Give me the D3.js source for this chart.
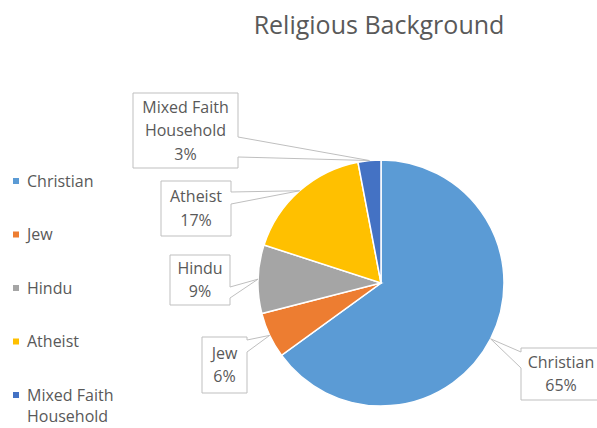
<!DOCTYPE html>
<html>
<head>
<meta charset="utf-8">
<script src="https://cdn.jsdelivr.net/npm/d3@7"></script>
<style>
	body { margin: 0; background: #fff; }
	text { font-family: "Open Sans", sans-serif; fill: #595959; }
</style>
</head>
<body>
<div id="chart"></div>
<script>
var title = "Religious Background";
var categories = ["Christian", "Jew", "Hindu", "Atheist", "Mixed Faith Household"];
var shares = [65, 6, 9, 17, 3];
var colors = ["#5b9bd5", "#ed7d31", "#a5a5a5", "#ffc000", "#4472c4"];

var chart = { width: 597, height: 428, cx: 381, cy: 283, r: 123 };

// callout boxes, order follows categories (layout only)
var callouts = [
	{ x: 521, y: 348, w: 80, h: 52, side: "left", b0: 352, b1: 368 },
	{ x: 202, y: 337, w: 45, h: 56, side: "right", b0: 340, b1: 352 },
	{ x: 170, y: 255, w: 60, h: 50, side: "right", b0: 287, b1: 298 },
	{ x: 161, y: 181, w: 70, h: 55, side: "right", b0: 192, b1: 204 },
	{ x: 133, y: 93, w: 105, h: 75, side: "right", b0: 137, b1: 157 }
];

var data = categories.map(function (c, i) {
	return { name: c, value: shares[i], color: colors[i] };
});

var svg = d3.select("#chart")
	.append("svg")
	.attr("width", chart.width)
	.attr("height", chart.height);

svg.append("text")
	.attr("x", 379)
	.attr("y", 34)
	.attr("text-anchor", "middle")
	.style("font-size", "25px")
	.text(title);

var pie = d3.pie()
	.sort(null)
	.value(function (d) { return d.value; });

var arcs = pie(data);

var arc = d3.arc()
	.innerRadius(0)
	.outerRadius(chart.r);

var edge = d3.arc()
	.innerRadius(chart.r)
	.outerRadius(chart.r);

var g = svg.append("g")
	.attr("transform", "translate(" + chart.cx + "," + chart.cy + ")");

g.selectAll(".slice")
	.data(arcs)
	.enter()
	.append("path")
	.attr("class", "slice")
	.attr("d", arc)
	.attr("fill", function (d) { return d.data.color; })
	.attr("stroke", "#fff")
	.attr("stroke-width", 1.5);

// wrap words into lines no wider than maxW
function wrap(sel, words, maxW) {
	var lines = [], cur = "";
	var probe = sel.append("text").style("font-size", "16px");
	words.split(" ").forEach(function (w) {
		var t = cur ? cur + " " + w : w;
		probe.text(t);
		if (cur && probe.node().getComputedTextLength() > maxW) {
			lines.push(cur);
			cur = w;
		} else {
			cur = t;
		}
	});
	lines.push(cur);
	probe.remove();
	return lines;
}

// callouts
arcs.forEach(function (d, i) {
	var c = callouts[i];
	var p = edge.centroid(d);
	var ax = chart.cx + p[0], ay = chart.cy + p[1];
	var path;
	if (c.side === "right") {
		path = "M" + c.x + "," + c.y + "H" + (c.x + c.w) + "V" + c.b0 +
			"L" + ax + "," + ay + "L" + (c.x + c.w) + "," + c.b1 +
			"V" + (c.y + c.h) + "H" + c.x + "Z";
	} else {
		path = "M" + c.x + "," + c.y + "H" + (c.x + c.w) + "V" + (c.y + c.h) +
			"H" + c.x + "V" + c.b1 + "L" + ax + "," + ay + "L" + c.x + "," + c.b0 + "Z";
	}
	svg.append("path")
		.attr("d", path)
		.attr("fill", "#fff")
		.attr("stroke", "#bfbfbf")
		.attr("stroke-width", 1);

	var lines = wrap(svg, d.data.name, c.w - 10);
	lines.push(d.data.value + "%");
	var lh = 23.5;
	var y0 = c.y + c.h / 2 - (lines.length - 1) * lh / 2;
	var t = svg.append("text")
		.attr("text-anchor", "middle")
		.style("font-size", "16px");
	lines.forEach(function (l, k) {
		t.append("tspan")
			.attr("x", c.x + c.w / 2)
			.attr("y", y0 + k * lh)
			.attr("dy", "0.35em")
			.text(l);
	});
});

// legend
var legend = svg.append("g")
	.attr("class", "legend");

var row = legend.selectAll(".row")
	.data(data)
	.enter()
	.append("g")
	.attr("class", "row")
	.attr("transform", function (d, i) { return "translate(13," + (181 + i * 53.5) + ")"; });

row.append("rect")
	.attr("x", 0)
	.attr("y", -3)
	.attr("width", 6)
	.attr("height", 6)
	.attr("fill", function (d) { return d.color; });

row.each(function (d) {
	var r = d3.select(this);
	var lines = wrap(r, d.name, 95);
	var t = r.append("text")
		.style("font-size", "16px");
	lines.forEach(function (l, k) {
		t.append("tspan")
			.attr("x", 14)
			.attr("y", k * 21)
			.attr("dy", "0.35em")
			.text(l);
	});
});
</script>
</body>
</html>
